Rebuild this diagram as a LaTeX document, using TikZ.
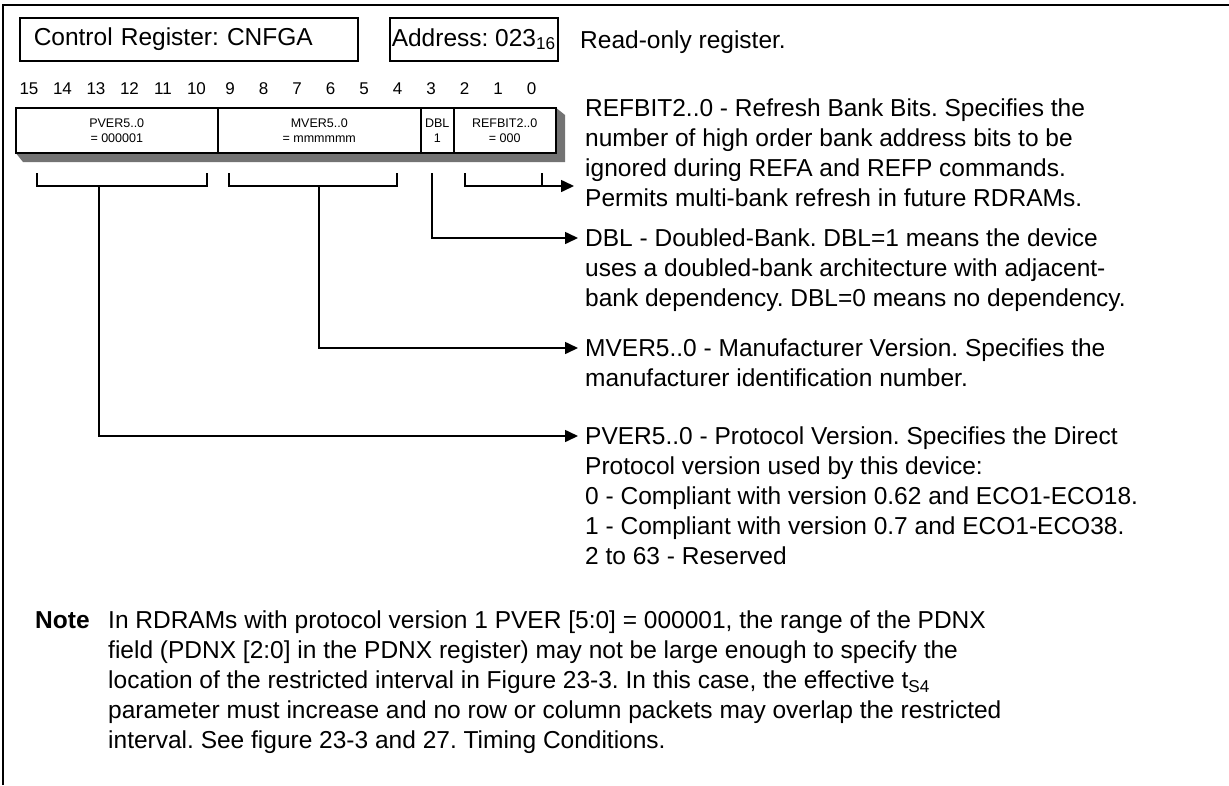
\documentclass[tikz,border=0pt]{standalone}
\usepackage{fontspec}
\setmainfont{Liberation Sans}
\usetikzlibrary{arrows.meta}
\frenchspacing

\begin{document}
\begin{tikzpicture}[x=1pt, y=-1pt, font=\fontsize{24.5}{30}\selectfont, box/.style={draw, line width=1.5pt, inner sep=0pt, anchor=north west, minimum height=43pt}, field/.style={draw, line width=1.5pt, fill=white, inner sep=0pt, anchor=north west, minimum height=45pt, align=center, font=\fontsize{12.5}{15}\selectfont}, bit/.style={font=\fontsize{17}{17}\selectfont}, desc/.style={anchor=north west, align=left, inner sep=0pt}, brk/.style={line width=1.6pt}, arr/.style={-{Triangle[length=13pt, width=12pt]}, line width=1.6pt}]
                \useasboundingbox (0,0) rectangle (1229,785);
                \draw[line width=2.2pt] (3,785) -- (3,5) -- (1229,5);
                % nodes
                \node[box, inner xsep=14pt, text width=310pt, align=left] (ctrl) at (19,17) {Control Register: CNFGA};
                \node[box, minimum width=168pt] (addr) at (389,17) {Address: 023\textsubscript{16}};
                \node[anchor=west, inner sep=0pt] (ro) at (580,42) {Read-only register.};
                \foreach \b [evaluate=\b as \x using 29+33.5*(15-\b)] in {15,...,0}
                    \node[bit] (b\b) at (\x,89) {\b};
                \fill[black!55] (15,152) -- (23,162) -- (565,162) -- (565,115) -- (555,107) -- cycle;
                \node[field, minimum width=202pt] (pver) at (15,107) {PVER5..0\\= 000001};
                \node[field, minimum width=203pt] (mver) at (217,107) {MVER5..0\\= mmmmmm};
                \node[field, minimum width=33pt] (dbl) at (420,107) {DBL\\1};
                \node[field, minimum width=102pt] (refbit) at (453,107) {REFBIT2..0\\= 000};
                \node[desc] (refbittxt) at (585,99) {REFBIT2..0 - Refresh Bank Bits. Specifies the\\number of high order bank address bits to be\\ignored during REFA and REFP commands.\\Permits multi-bank refresh in future RDRAMs.};
                \node[desc] (dbltxt) at (585,229) {DBL - Doubled-Bank. DBL=1 means the device\\uses a doubled-bank architecture with adjacent-\\bank dependency. DBL=0 means no dependency.};
                \node[desc] (mvertxt) at (585,339) {MVER5..0 - Manufacturer Version. Specifies the\\manufacturer identification number.};
                \node[desc] (pvertxt) at (585,427) {PVER5..0 - Protocol Version. Specifies the Direct\\Protocol version used by this device:\\0 - Compliant with version 0.62 and ECO1-ECO18.\\1 - Compliant with version 0.7 and ECO1-ECO38.\\2 to 63 - Reserved};
                \node[desc] (note) at (35,611) {\textbf{Note}};
                \node[desc] (notetxt) at (108,611) {In RDRAMs with protocol version 1 PVER [5:0] = 000001, the range of the PDNX\\field (PDNX [2:0] in the PDNX register) may not be large enough to specify the\\location of the restricted interval in Figure 23-3. In this case, the effective t\textsubscript{S4}\\parameter must increase and no row or column packets may overlap the restricted\\interval. See figure 23-3 and 27. Timing Conditions.};
                \coordinate (refbittip) at (574,186);
                \coordinate (dbltip) at (578,238);
                \coordinate (mvertip) at (578,348);
                \coordinate (pvertip) at (578,436);
                % edges
                \draw[brk] (37,173) -- (37,186) -- (207,186) -- (207,173);
                \draw[brk] (229,173) -- (229,186) -- (397,186) -- (397,173);
                \draw[brk] (465,173) -- (465,186) -- (542,186) -- (542,173);
                \draw[arr] (542,186) -- (refbittip);
                \draw[arr] (432,173) |- (dbltip);
                \draw[arr] (319,186) |- (mvertip);
                \draw[arr] (99,186) |- (pvertip);
            \end{tikzpicture}
\end{document}
